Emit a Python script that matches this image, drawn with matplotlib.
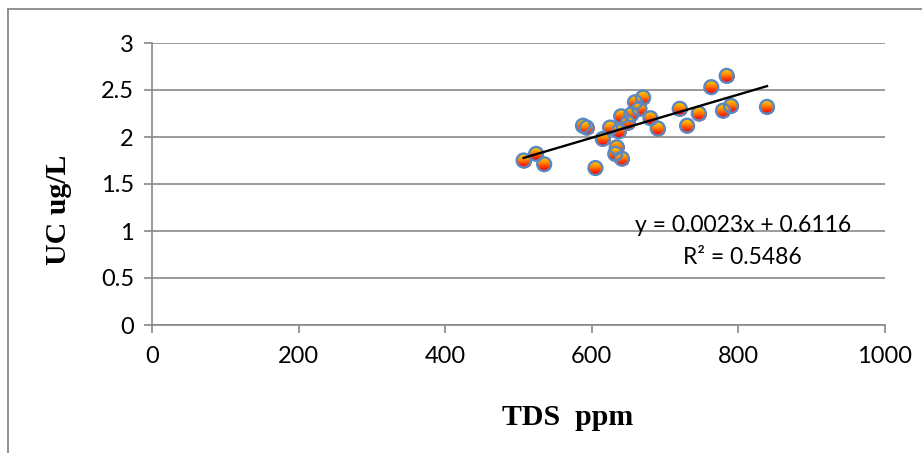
import numpy as np
import matplotlib
matplotlib.use("Agg")
import matplotlib.pyplot as plt
from matplotlib.path import Path
from matplotlib.markers import MarkerStyle
from matplotlib.lines import Line2D
from matplotlib.colors import LinearSegmentedColormap

# data
tds = [507, 524, 535, 588, 593, 605, 615, 625, 632, 634, 637, 640, 641, 649,
       654, 659, 665, 670, 680, 690, 720, 730, 746, 763, 779, 784, 790, 839]
uc = [1.75, 1.82, 1.71, 2.12, 2.10, 1.67, 1.98, 2.10, 1.82, 1.89, 2.06, 2.22, 1.77, 2.15,
      2.24, 2.37, 2.30, 2.42, 2.20, 2.09, 2.30, 2.12, 2.25, 2.53, 2.28, 2.65, 2.33, 2.32]
slope = 0.0023
intercept = 0.6116
eq_text = "y = 0.0023x + 0.6116"
r2_text = "R² = 0.5486"
xticks = [0, 200, 400, 600, 800, 1000]
yticks = [0, 0.5, 1, 1.5, 2, 2.5, 3]
ytick_labels = ["0", "0.5", "1", "1.5", "2", "2.5", "3"]

W, H = 922, 453
fig = plt.figure(figsize=(W / 100, H / 100), dpi=100)
ax = fig.add_axes([152 / W, 1 - 325 / H, (885 - 152) / W, (325 - 43) / H])

grey = "#898989"

# gradient markers: stacked circular caps, red at bottom -> yellow-orange at top
cmap = LinearSegmentedColormap.from_list("g", ["#F00000", "#FF3C00", "#FF8A00", "#FFC000"])
s = 100
ax.scatter(tds, uc, s=s, marker="o", color=cmap(0.0), linewidths=0, zorder=3)
levels = np.linspace(-0.8, 0.8, 14)
for i, t in enumerate(levels):
    a0 = np.arcsin(t)
    th = np.linspace(a0, np.pi - a0, 41)
    verts = np.column_stack([np.cos(th), np.sin(th)])
    verts = np.vstack([verts, verts[:1]])
    m = MarkerStyle(Path(verts, closed=True))
    ax.scatter(tds, uc, s=s, marker=m, color=cmap((i + 1) / len(levels)),
               linewidths=0, zorder=3)
ax.scatter(tds, uc, s=s, marker="o", facecolors="none", edgecolors="#5A88C0",
           linewidths=1.7, zorder=4)

# trendline
xs = np.array([min(tds), max(tds)])
ax.plot(xs, slope * xs + intercept, color="black", lw=1.7, zorder=5)

ax.text(806, 1.06, eq_text, ha="center", va="center", fontsize=16.5, family="Lato")
ax.text(806, 0.72, r2_text, ha="center", va="center", fontsize=16.5, family="Lato")

ax.set_xlim(0, 1000)
ax.set_ylim(0, 3)
ax.set_xticks(xticks)
ax.set_yticks(yticks)
ax.set_yticklabels(ytick_labels)
ax.grid(axis="y", color=grey, lw=1.2)
ax.set_axisbelow(True)
for sp in ["top", "right"]:
    ax.spines[sp].set_visible(False)
for sp in ["left", "bottom"]:
    ax.spines[sp].set_color(grey)
    ax.spines[sp].set_linewidth(1.2)
ax.tick_params(axis="both", colors=grey, length=6, width=1.2, direction="out",
               labelcolor="black", labelsize=17)
ax.tick_params(axis="y", pad=7)
ax.tick_params(axis="x", pad=9)
for lab in ax.get_xticklabels() + ax.get_yticklabels():
    lab.set_family("Lato")

fig.text(568 / W, 1 - 425 / H, "TDS  ppm", ha="center", va="baseline",
         fontsize=21.5, fontweight="bold", family="Liberation Serif")
fig.text(59 / W, 1 - 210 / H, "UC ug/L", ha="center", va="center", rotation=90,
         fontsize=21.5, fontweight="bold", family="Liberation Serif")

# outer chart border
fig.add_artist(Line2D([7.5 / W, 1], [1 - 9 / H, 1 - 9 / H], color=grey, lw=1.3))
fig.add_artist(Line2D([7.5 / W, 7.5 / W], [1 - 9 / H, 0], color=grey, lw=1.3))

plt.savefig("out.png", dpi=100)
